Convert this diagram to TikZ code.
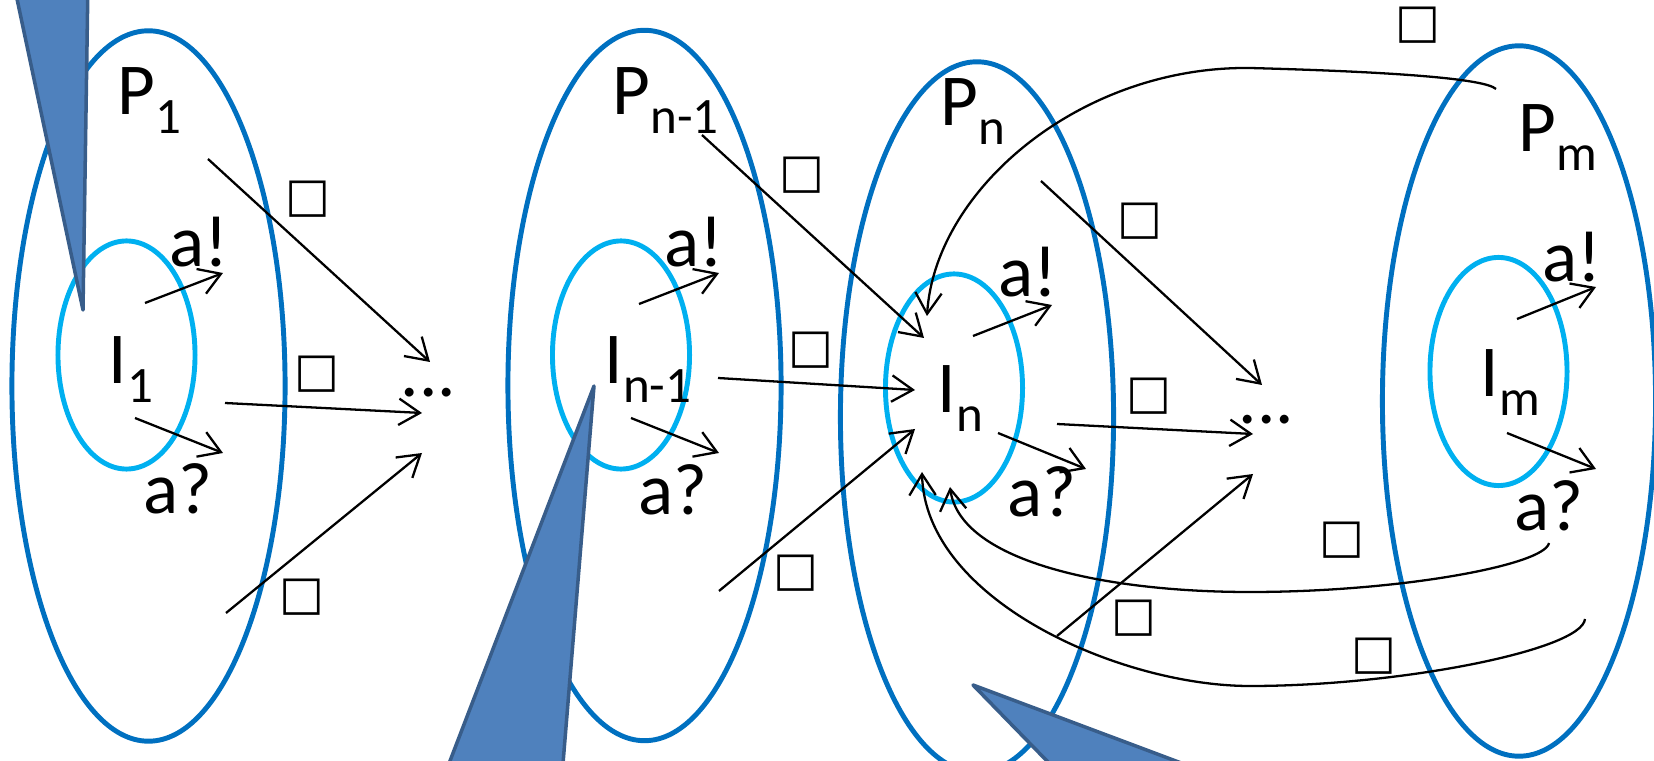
\documentclass[tikz,border=0pt]{standalone}
\usepackage{fontspec}
\setmainfont{Carlito}
\newfontfamily\boxfont{DejaVu Sans}
\usetikzlibrary{arrows.meta,shapes.geometric}

\definecolor{procblue}{HTML}{0070C0}
\definecolor{innerblue}{HTML}{00B0F0}
\definecolor{calloutfill}{HTML}{4F81BD}
\definecolor{calloutline}{HTML}{385D8A}

\tikzset{
  proc/.style={ellipse, draw=procblue, line width=1.4pt, minimum width=2.73cm, minimum height=7.10cm, inner sep=0pt},
  inner/.style={ellipse, draw=innerblue, line width=1.4pt, minimum width=1.37cm, minimum height=2.28cm, inner sep=0pt},
  lbl/.style={anchor=base west, inner sep=0pt, font=\fontsize{20.8}{24}\selectfont},
  tofu/.style={inner sep=0pt, font=\boxfont\fontsize{13.5}{14}\selectfont},
  arr/.style={->, line width=0.65pt},
  pointer/.style={fill=calloutfill, draw=calloutline, line width=1pt, line join=round},
}
\newcommand{\sublbl}[2]{#1\raisebox{-0.18cm}{\fontsize{14.5}{16}\selectfont #2}}

\begin{document}
\begin{tikzpicture}[x=0.01cm, y=-0.01cm, >={Straight Barb[length=6pt,width=7.5pt]}]
  \useasboundingbox (0,0) rectangle (1654,761);
  \clip (0,0) rectangle (1654,761);

  % processes
  \node[proc] (P1) at (148.5,386) {};
  \node[inner] (I1) at (126.5,355) {};
  \node[proc] (Pn1) at (644.5,385.5) {};
  \node[inner] (In1) at (621,355) {};
  \node[proc] (Pn) at (977,417) {};
  \node[inner] (In) at (954,388) {};
  \node[proc] (Pm) at (1519,401) {};
  \node[inner] (Im) at (1498.5,371.5) {};

  \node[lbl] (P1lbl) at (117,115) {\sublbl{P}{1}};
  \node[lbl] (I1lbl) at (108,384) {\sublbl{I}{1}};
  \node[lbl] (snd1) at (169,267) {a!};
  \node[lbl] (rcv1) at (143,514) {a?};
  \node[lbl] (dots1) at (400,397) {...};

  \node[lbl] (Pn1lbl) at (612,115) {\sublbl{P}{n-1}};
  \node[lbl] (In1lbl) at (604,384) {\sublbl{I}{n-1}};
  \node[lbl] (snd2) at (664,267) {a!};
  \node[lbl] (rcv2) at (638,515) {a?};

  \node[lbl] (Pnlbl) at (940,126) {\sublbl{P}{n}};
  \node[lbl] (Inlbl) at (937,413) {\sublbl{I}{n}};
  \node[lbl] (snd3) at (998,297) {a!};
  \node[lbl] (rcv3) at (1007,517) {a?};
  \node[lbl] (dots2) at (1238,424) {...};

  \node[lbl] (Pmlbl) at (1518,152) {\sublbl{P}{m}};
  \node[lbl] (Imlbl) at (1480,397) {\sublbl{I}{m}};
  \node[lbl] (snd4) at (1542,282) {a!};
  \node[lbl] (rcv4) at (1514,531) {a?};

  \node[tofu] (b1) at (308,199) {□};
  \node[tofu] (b2) at (317,374) {□};
  \node[tofu] (b3) at (302,597) {□};
  \node[tofu] (b4) at (801.5,175.5) {□};
  \node[tofu] (b5) at (811,350) {□};
  \node[tofu] (b6) at (795.5,573) {□};
  \node[tofu] (b7) at (1140,221) {□};
  \node[tofu] (b8) at (1149,396) {□};
  \node[tofu] (b9) at (1134,618) {□};
  \node[tofu] (b10) at (1418,25) {□};
  \node[tofu] (b11) at (1342,540) {□};
  \node[tofu] (b12) at (1374,656) {□};

  % arrow ends
  \coordinate (s1a) at (145,303);  \coordinate (e1a) at (223,273);
  \coordinate (s1b) at (135,418);  \coordinate (e1b) at (223,453);
  \coordinate (s1c) at (208,159);  \coordinate (e1c) at (430,362);
  \coordinate (s1d) at (225,403);  \coordinate (e1d) at (422,413);
  \coordinate (s1e) at (226,613);  \coordinate (e1e) at (422,453);

  \coordinate (s2a) at (639,304);  \coordinate (e2a) at (719,273);
  \coordinate (s2b) at (631,418);  \coordinate (e2b) at (719,453);
  \coordinate (s2c) at (702,135);  \coordinate (e2c) at (924,338);
  \coordinate (s2d) at (718,378);  \coordinate (e2d) at (915,390);
  \coordinate (s2e) at (719,591);  \coordinate (e2e) at (915,429);

  \coordinate (s3a) at (973,336);  \coordinate (e3a) at (1052,305);
  \coordinate (s3b) at (998,433);  \coordinate (e3b) at (1086,469);
  \coordinate (s3c) at (1041,181); \coordinate (e3c) at (1262,385);
  \coordinate (s3d) at (1057,424); \coordinate (e3d) at (1253,434);
  \coordinate (s3e) at (1057,636); \coordinate (e3e) at (1253,474);

  \coordinate (s4a) at (1517,319); \coordinate (e4a) at (1596,287);
  \coordinate (s4b) at (1507,433); \coordinate (e4b) at (1596,469);

  \coordinate (r1) at (1496,89);  \coordinate (t1) at (927,316);
  \coordinate (r2) at (1549,543); \coordinate (t2) at (950,487);
  \coordinate (r3) at (1585,619); \coordinate (t3) at (922,472);

  \foreach \g in {1,2,3} {
    \foreach \k in {a,b,c,d,e}
      \draw[arr] (s\g\k) -- (e\g\k);
  }
  \draw[arr] (s4a) -- (e4a);
  \draw[arr] (s4b) -- (e4b);

  \draw[arr] (r1) .. controls (1485,79) and (1400,72) .. (1250,68)
    .. controls (1080,66) and (935,190) .. (t1);
  \draw[arr] (r2) .. controls (1545,565) and (1400,592) .. (1250,592)
    .. controls (1100,592) and (960,560) .. (t2);
  \draw[arr] (r3) .. controls (1582,650) and (1400,686) .. (1250,686)
    .. controls (1120,686) and (925,600) .. (t3);

  % callout pointers
  \draw[pointer] (83,310) -- (13,-20) -- (88,-20) -- cycle;
  \draw[pointer] (594,386) -- (435,800) -- (560,800) -- cycle;
  \draw[pointer] (973,685) -- (1280,800) -- (1085,800) -- cycle;
\end{tikzpicture}
\end{document}
